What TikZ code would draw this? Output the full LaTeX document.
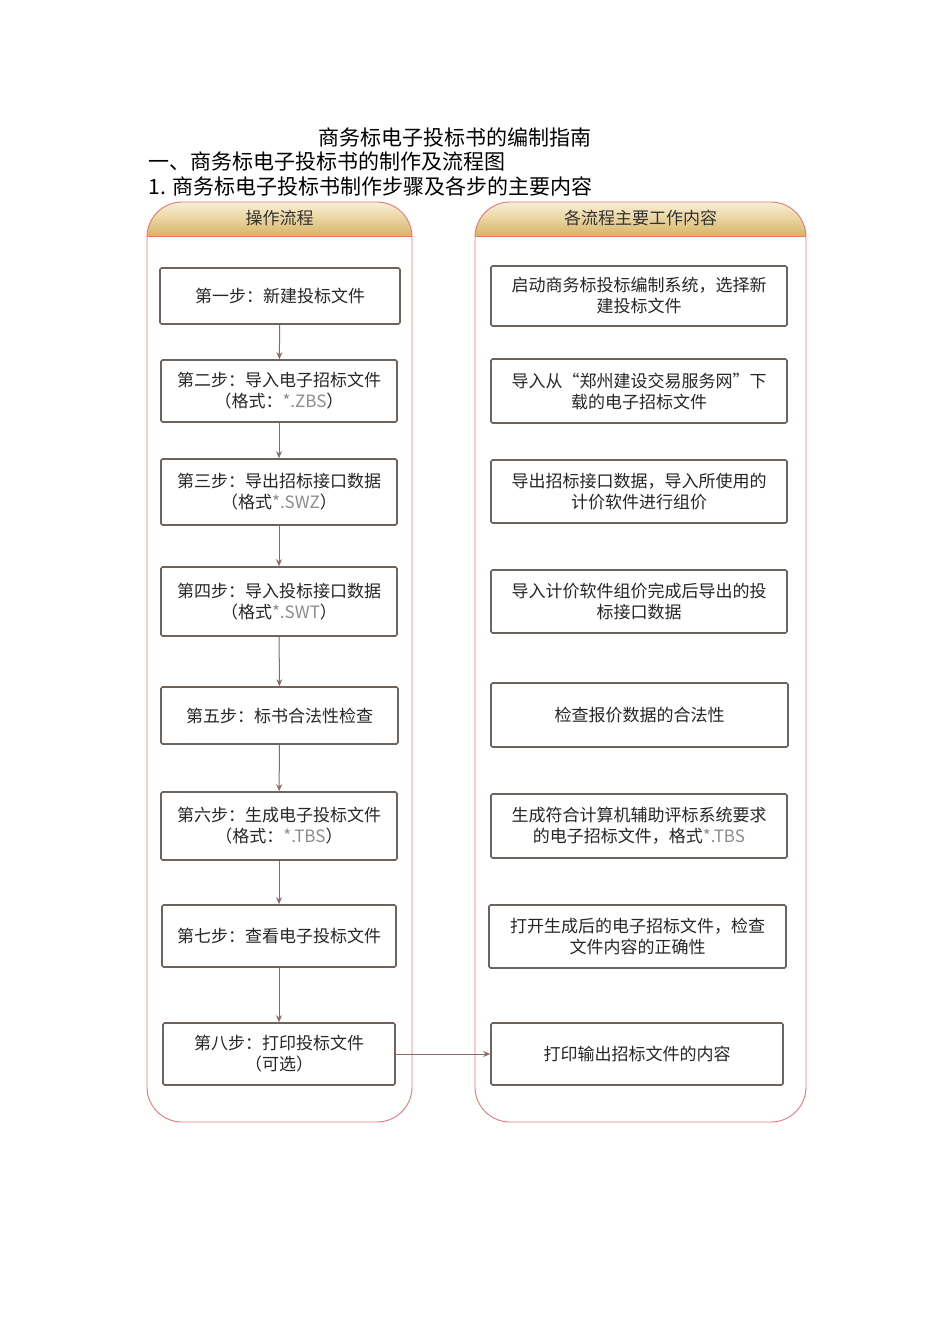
\documentclass[tikz,border=0pt]{standalone}
\usepackage{fontspec}
\setmainfont{Noto Sans CJK SC}
\usetikzlibrary{arrows.meta}
\definecolor{panelred}{RGB}{230,120,120}
\definecolor{boxgray}{RGB}{110,100,95}
\definecolor{arr}{RGB}{130,110,105}
\definecolor{goldtop}{RGB}{250,240,215}
\definecolor{goldbot}{RGB}{215,180,100}
\tikzset{
  x=1pt,y=-1pt,
  stepbox/.style={draw=boxgray,line width=1.6pt,rounded corners=1.5pt,fill=white,align=center,font=\fontsize{17}{21}\selectfont,text=black!85,inner sep=1pt},
  flow/.style={draw=arr,line width=1pt,-{Stealth[length=7pt,width=6pt]}},
  gr/.style={text=black!45},
}
\newcommand{\mybox}[6]{\node[stepbox,minimum width={#3-#2},minimum height={#5-#4}] (#1) at ({(#2+#3)/2},{(#4+#5)/2}) {#6};}
\newcommand{\panel}[4]{%
  \begin{scope}
  \clip[rounded corners=35] (#1,202) rectangle (#2,1122);
  \shade[top color=goldtop,bottom color=goldbot] (#1,202) rectangle (#2,236);
  \end{scope}
  \draw[panelred,line width=0.9pt,rounded corners=35] (#1,202) rectangle (#2,1122);
  \draw[panelred!80!orange,line width=1pt] (#1,236) -- (#2,236);
  \node[font=\fontsize{17}{20}\selectfont,text=black!80] (#4) at ({(#1+#2)/2},218) {#3};}
\begin{document}
\begin{tikzpicture}
\useasboundingbox (0,0) rectangle (950,1344);
\fill[white] (0,0) rectangle (950,1344);
\node[font=\fontsize{21}{24}\selectfont] (title) at (455,137) {商务标电子投标书的编制指南};
\node[font=\fontsize{21}{24}\selectfont,anchor=west] (h1) at (145,161) {一、商务标电子投标书的制作及流程图};
\node[font=\fontsize{21}{24}\selectfont,anchor=west] (h2) at (145,186) {1. 商务标电子投标书制作步骤及各步的主要内容};
\panel{147}{412}{操作流程}{hl}
\panel{475}{806}{各流程主要工作内容}{hr}
\mybox{l1}{160}{400}{268}{324}{第一步：新建投标文件}
\mybox{l2}{161}{397}{360}{422}{第二步：导入电子招标文件\\（格式：{\color{black!45}*.ZBS}）}
\mybox{l3}{161}{397}{459}{525}{第三步：导出招标接口数据\\（格式{\color{black!45}*.SWZ}）}
\mybox{l4}{161}{397}{567}{636}{第四步：导入投标接口数据\\（格式{\color{black!45}*.SWT}）}
\mybox{l5}{161}{398}{687}{744}{第五步：标书合法性检查}
\mybox{l6}{161}{397}{792}{860}{第六步：生成电子投标文件\\（格式：{\color{black!45}*.TBS}）}
\mybox{l7}{162}{396}{905}{967}{第七步：查看电子投标文件}
\mybox{l8}{163}{395}{1023}{1085}{第八步：打印投标文件\\（可选）}
\mybox{r1}{491}{787}{266}{326}{启动商务标投标编制系统，选择新\\建投标文件}
\mybox{r2}{491}{787}{359}{423}{导入从“郑州建设交易服务网”下\\载的电子招标文件}
\mybox{r3}{491}{787}{460}{523}{导出招标接口数据，导入所使用的\\计价软件进行组价}
\mybox{r4}{491}{787}{570}{633}{导入计价软件组价完成后导出的投\\标接口数据}
\mybox{r5}{491}{788}{683}{747}{检查报价数据的合法性}
\mybox{r6}{491}{787}{794}{858}{生成符合计算机辅助评标系统要求\\的电子招标文件，格式{\color{black!45}*.TBS}}
\mybox{r7}{489}{786}{905}{968}{打开生成后的电子招标文件，检查\\文件内容的正确性}
\mybox{r8}{491}{783}{1023}{1085}{打印输出招标文件的内容}
\foreach \a/\b in {l1/l2,l2/l3,l3/l4,l4/l5,l5/l6,l6/l7,l7/l8}{\draw[flow] (\a) -- (\b);}
\draw[flow] (l8) -- (r8);
\end{tikzpicture}
\end{document}
